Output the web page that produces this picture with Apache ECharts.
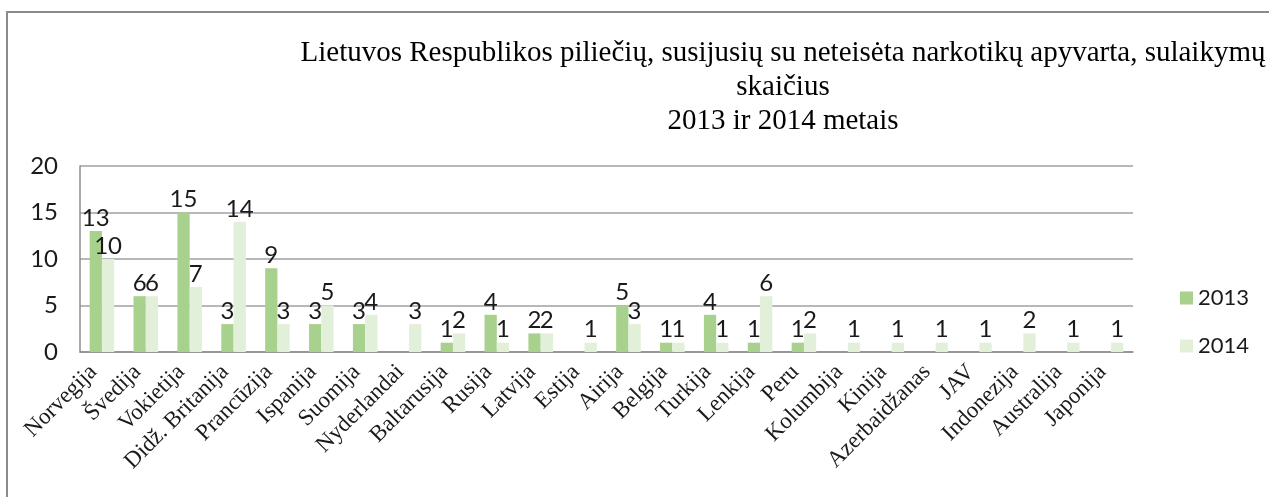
<!DOCTYPE html>
<html>
<head>
<meta charset="utf-8">
<script src="https://cdn.jsdelivr.net/npm/echarts@6/dist/echarts.min.js"></script>
<style>html,body{margin:0;padding:0;background:#fff}#c{width:1269px;height:497px}</style>
</head>
<body>
<div id="c"></div>
<script>
const categories = ["Norvegija","Švedija","Vokietija","Didž. Britanija","Prancūzija","Ispanija","Suomija","Nyderlandai","Baltarusija","Rusija","Latvija","Estija","Airija","Belgija","Turkija","Lenkija","Peru","Kolumbija","Kinija","Azerbaidžanas","JAV","Indonezija","Australija","Japonija"];
const values2013 = [13,6,15,3,9,3,3,null,1,4,2,null,5,1,4,1,1,null,null,null,null,null,null,null];
const values2014 = [10,6,7,14,3,5,4,3,2,1,2,1,3,1,1,6,2,1,1,1,1,2,1,1];
const yTicks = [0,5,10,15,20];
const titleText = "Lietuvos Respublikos piliečių, susijusių su neteisėta narkotikų apyvarta, sulaikymų\nskaičius\n2013 ir 2014 metais";

const chart = echarts.init(document.getElementById('c'));
const labelStyle = {show:true, position:'top', fontFamily:'Lato', fontSize:24, color:'#1a1a1a', distance:1};
chart.setOption({
  animation:false,
  backgroundColor:'#fff',
  graphic:[{type:'rect', shape:{x:7,y:12,width:1300,height:600}, style:{fill:'none', stroke:'#8a8a8a', lineWidth:2}}],
  title:{
    text:titleText, left:778, top:31, textAlign:'center',
    textStyle:{fontFamily:'Liberation Serif', fontSize:29, fontWeight:'normal', color:'#000', lineHeight:34}
  },
  legend:{
    orient:'vertical', left:1175, top:282, itemWidth:13, itemHeight:13, itemGap:26,
    icon:'rect', textStyle:{fontFamily:'Lato', fontSize:22, color:'#1a1a1a'},
    data:['2013','2014']
  },
  grid:{left:80, right:136, top:166, bottom:145, containLabel:false},
  xAxis:{
    type:'category', data:categories,
    axisLine:{lineStyle:{color:'#8c8c8c', width:1.5}},
    axisTick:{show:false},
    axisLabel:{interval:0, rotate:45, margin:8, padding:[0,12,0,0], fontFamily:'Liberation Serif', fontSize:23, color:'#1a1a1a'}
  },
  yAxis:{
    type:'value', min:yTicks[0], max:yTicks[yTicks.length-1], interval:yTicks[1]-yTicks[0],
    axisLine:{show:true, lineStyle:{color:'#8c8c8c', width:1.5}},
    axisTick:{show:false},
    splitLine:{lineStyle:{color:'#a0a0a0', width:1.5}},
    axisLabel:{margin:22, fontFamily:'Lato', fontSize:24, color:'#1a1a1a'}
  },
  series:[
    {name:'2013', type:'bar', data:values2013, barGap:'0%', barCategoryGap:'44%', itemStyle:{color:'#a9d18e'}, label:labelStyle},
    {name:'2014', type:'bar', data:values2014, itemStyle:{color:'#e2f0d9'}, label:labelStyle}
  ]
});
</script>
</body>
</html>
